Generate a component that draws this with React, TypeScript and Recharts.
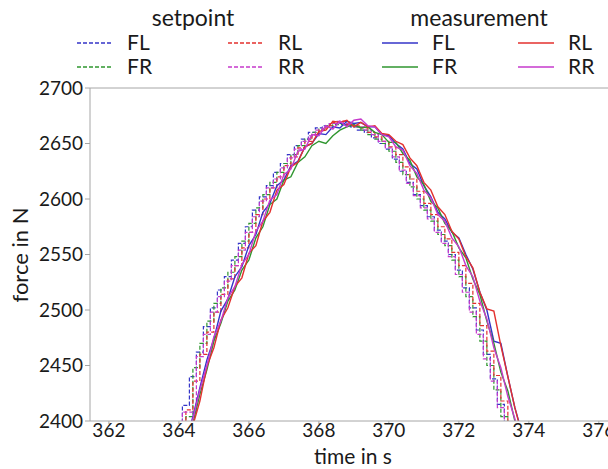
import React from "react";
import { LineChart, Line, XAxis, YAxis, ReferenceLine, Label } from "recharts";

// time grids (s)
const measTime = [
  363.8, 364.0, 364.2, 364.4, 364.6, 364.8, 365.0, 365.2, 365.4, 365.6, 365.8, 366.0, 366.2,
  366.4, 366.6, 366.8, 367.0, 367.2, 367.4, 367.6, 367.8, 368.0, 368.2, 368.4, 368.6, 368.8,
  369.0, 369.2, 369.4, 369.6, 369.8, 370.0, 370.2, 370.4, 370.6, 370.8, 371.0, 371.2, 371.4,
  371.6, 371.8, 372.0, 372.2, 372.4, 372.6, 372.8, 373.0, 373.2, 373.4, 373.6, 373.8, 374.0,
];
const setTimeA = [
  363.7, 363.9, 364.1, 364.3, 364.5, 364.7, 364.9, 365.1, 365.3, 365.5, 365.7, 365.9, 366.1,
  366.3, 366.5, 366.7, 366.9, 367.1, 367.3, 367.5, 367.7, 367.9, 368.1, 368.3, 368.5, 368.7,
  368.9, 369.1, 369.3, 369.5, 369.7, 369.9, 370.1, 370.3, 370.5, 370.7, 370.9, 371.1, 371.3,
  371.5, 371.7, 371.9, 372.1, 372.3, 372.5, 372.7, 372.9, 373.1, 373.3, 373.5, 373.7, 373.9,
];

// setpoints (N)
const spFL = [
  2368, 2392, 2414, 2440, 2462, 2485, 2502, 2518, 2530, 2545, 2560, 2575, 2590, 2602, 2612, 2624,
  2632, 2640, 2648, 2654, 2660, 2664, 2666, 2668, 2668, 2667, 2665, 2662, 2660, 2655, 2650, 2645,
  2636, 2625, 2615, 2604, 2594, 2584, 2572, 2562, 2550, 2536, 2520, 2502, 2482, 2460, 2438, 2415,
  2393, 2372, 2352, 2332,
];
const spRR = [
  2362, 2385, 2408, 2408, 2458, 2478, 2498, 2512, 2526, 2540, 2554, 2570, 2584, 2598, 2610, 2618,
  2628, 2637, 2645, 2652, 2657, 2662, 2665, 2668, 2670, 2668, 2667, 2665, 2662, 2658, 2652, 2646,
  2638, 2626, 2614, 2603, 2592, 2582, 2570, 2560, 2548, 2532, 2516, 2498, 2478, 2456, 2436, 2412,
  2390, 2370, 2350, 2330,
];
const spFR = [
  2376, 2398, 2404, 2448, 2470, 2490, 2506, 2520, 2534, 2548, 2562, 2578, 2592, 2604, 2615, 2624,
  2632, 2640, 2648, 2654, 2660, 2663, 2666, 2667, 2667, 2666, 2665, 2662, 2658, 2654, 2650, 2643,
  2633, 2622, 2611, 2600, 2590, 2580, 2568, 2558, 2545, 2530, 2512, 2494, 2472, 2450, 2428, 2404,
  2383, 2363, 2343, 2323,
];
const spRL = [
  2364, 2388, 2410, 2436, 2460, 2480, 2498, 2514, 2528, 2540, 2556, 2570, 2586, 2600, 2610, 2620,
  2630, 2638, 2646, 2652, 2658, 2662, 2666, 2669, 2670, 2667, 2666, 2664, 2660, 2656, 2652, 2647,
  2640, 2629, 2618, 2607, 2596, 2586, 2575, 2564, 2552, 2540, 2524, 2506, 2486, 2463, 2441, 2418,
  2395, 2375, 2355, 2335,
];

// measurements (N)
const mFL = [
  2328, 2352, 2380, 2404, 2430, 2455, 2474, 2499, 2510, 2530, 2539, 2558, 2568, 2588, 2596, 2612,
  2617, 2630, 2634, 2647, 2650, 2659, 2658, 2665, 2664, 2670, 2668, 2669, 2665, 2665, 2658, 2657,
  2650, 2645, 2632, 2627, 2612, 2602, 2588, 2582, 2570, 2565, 2550, 2537, 2516, 2500, 2472, 2470,
  2440, 2412, 2390, 2370,
];
const mFR = [
  2332, 2357, 2376, 2398, 2424, 2446, 2472, 2488, 2508, 2518, 2536, 2545, 2565, 2575, 2595, 2600,
  2617, 2620, 2633, 2638, 2648, 2652, 2650, 2657, 2662, 2665, 2667, 2664, 2665, 2660, 2658, 2651,
  2651, 2641, 2635, 2620, 2613, 2598, 2592, 2578, 2571, 2556, 2547, 2528, 2514, 2490, 2470, 2444,
  2427, 2400, 2384, 2362,
];
const mRL = [
  2325, 2350, 2374, 2396, 2418, 2449, 2466, 2491, 2502, 2521, 2529, 2551, 2558, 2580, 2588, 2608,
  2613, 2629, 2633, 2647, 2650, 2661, 2662, 2670, 2669, 2671, 2665, 2669, 2665, 2666, 2659, 2658,
  2652, 2649, 2637, 2630, 2615, 2608, 2593, 2586, 2571, 2564, 2548, 2538, 2516, 2501, 2499, 2468,
  2440, 2412, 2388, 2368,
];
const mRR = [
  2335, 2360, 2382, 2402, 2428, 2450, 2476, 2490, 2511, 2521, 2541, 2550, 2571, 2580, 2599, 2604,
  2622, 2627, 2643, 2645, 2658, 2657, 2666, 2663, 2670, 2665, 2671, 2672, 2666, 2665, 2658, 2656,
  2647, 2644, 2630, 2623, 2608, 2601, 2586, 2580, 2565, 2557, 2540, 2530, 2508, 2492, 2466, 2448,
  2422, 2402, 2376, 2358,
];

const xTicks = [362, 364, 366, 368, 370, 372, 374, 376];
const yTicks = [2400, 2450, 2500, 2550, 2600, 2650, 2700];

const BLUE = "#3434c8";
const GREEN = "#2f962f";
const RED = "#e3302e";
const MAGENTA = "#c63acc";
const AXIS = "#a6a6a6";
const INK = "#1a1a1a";
const FONT = "Lato, 'Open Sans', sans-serif";

const rows = (t: number[], v: number[]) => t.map((x, i) => ({ t: x, v: v[i] }));

const setpoints = [
  { name: "spFL", data: rows(setTimeA, spFL), color: BLUE },
  { name: "spFR", data: rows(measTime, spFR), color: GREEN },
  { name: "spRL", data: rows(measTime, spRL), color: RED },
  { name: "spRR", data: rows(setTimeA, spRR), color: MAGENTA },
];
const measurements = [
  { name: "mFL", data: rows(measTime, mFL), color: BLUE },
  { name: "mFR", data: rows(measTime, mFR), color: GREEN },
  { name: "mRL", data: rows(measTime, mRL), color: RED },
  { name: "mRR", data: rows(measTime, mRR), color: MAGENTA },
];

function Overlay() {
  const item = (x: number, y: number, color: string, dashed: boolean, text: string) => (
    <g key={text + x + y}>
      <line
        x1={x}
        x2={x + 36}
        y1={y}
        y2={y}
        stroke={color}
        strokeWidth={dashed ? 1.3 : 1.6}
        strokeDasharray={dashed ? "4 2" : undefined}
      />
      <text x={x + 50} y={y} dy="0.35em" fontSize={21} fill={INK}>
        {text}
      </text>
    </g>
  );
  return (
    <svg
      width={608}
      height={469}
      style={{ position: "absolute", left: 0, top: 0, fontFamily: FONT, pointerEvents: "none" }}
    >
      <text x={193} y={18} dy="0.35em" textAnchor="middle" fontSize={23} fill={INK}>
        setpoint
      </text>
      <text x={479} y={18} dy="0.35em" textAnchor="middle" fontSize={23} fill={INK}>
        measurement
      </text>
      {item(77, 43, BLUE, true, "FL")}
      {item(228, 43, RED, true, "RL")}
      {item(77, 67, GREEN, true, "FR")}
      {item(228, 67, MAGENTA, true, "RR")}
      {item(382, 43, BLUE, false, "FL")}
      {item(518, 43, RED, false, "RL")}
      {item(382, 67, GREEN, false, "FR")}
      {item(518, 67, MAGENTA, false, "RR")}
      <text
        x={20}
        y={255}
        dy="0.35em"
        textAnchor="middle"
        fontSize={22}
        fill={INK}
        transform="rotate(-90 20 255)"
      >
        force in N
      </text>
    </svg>
  );
}

export default function App() {
  return (
    <div
      style={{
        position: "absolute",
        left: 0,
        top: 0,
        width: 608,
        height: 469,
        overflow: "hidden",
        background: "#fff",
        fontFamily: FONT,
      }}
    >
      <LineChart width={630} height={469} margin={{ top: 88, right: 14, bottom: 4, left: 0 }}>
        <XAxis
          dataKey="t"
          type="number"
          domain={[361.46, 376.49]}
          ticks={xTicks}
          allowDataOverflow
          height={44}
          stroke={AXIS}
          tickSize={3}
          tickMargin={0}
          tick={{ fill: INK, fontSize: 19, fontFamily: FONT }}
        >
          <Label value="time in s" position="insideBottom" offset={1} fill={INK} fontSize={21} />
        </XAxis>
        <YAxis
          dataKey="v"
          type="number"
          domain={[2400, 2700]}
          ticks={yTicks}
          allowDataOverflow
          width={90}
          stroke={AXIS}
          tickSize={5}
          tickMargin={2}
          tick={{ fill: INK, fontSize: 19, fontFamily: FONT }}
        />
        <ReferenceLine y={2700} stroke={AXIS} strokeWidth={1} />
        {setpoints.map((s) => (
          <Line
            key={s.name}
            data={s.data}
            dataKey="v"
            type="stepAfter"
            stroke={s.color}
            strokeWidth={1.2}
            strokeDasharray="4 2"
            dot={false}
            isAnimationActive={false}
          />
        ))}
        {measurements.map((s) => (
          <Line
            key={s.name}
            data={s.data}
            dataKey="v"
            type="linear"
            stroke={s.color}
            strokeWidth={1.4}
            dot={false}
            isAnimationActive={false}
          />
        ))}
      </LineChart>
      <Overlay />
    </div>
  );
}
